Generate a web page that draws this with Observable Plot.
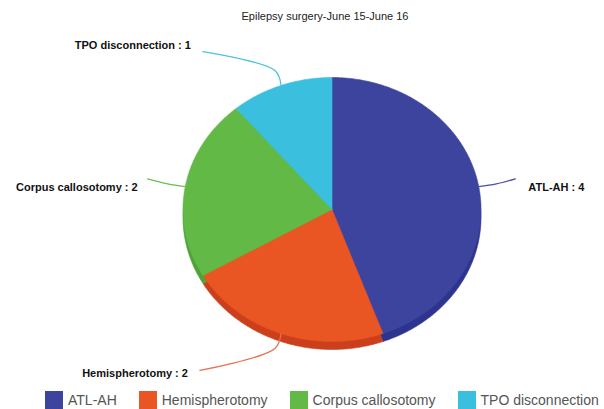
<!DOCTYPE html>
<html><head><meta charset="utf-8">
<script src="https://cdn.jsdelivr.net/npm/d3@7"></script>
<script src="https://cdn.jsdelivr.net/npm/@observablehq/plot@0.6"></script>
<style>
body{margin:0;background:#fff;width:604px;height:409px;overflow:hidden;font-family:"Liberation Sans",Arial,sans-serif}
#title{height:32px;line-height:32px;font-size:11px;color:#222;text-align:center;padding-left:46px;box-sizing:border-box;width:604px}
#chart{height:354px}
#legend{margin-top:3px}
.lg-swatches{font-family:"Liberation Sans",Arial,sans-serif;font-size:14px;color:#555;margin:0 !important;line-height:18px}
.lg-swatches-wrap{flex-wrap:nowrap;min-height:0;height:22px;white-space:nowrap;padding-left:45px;width:600px;box-sizing:border-box}
.lg-swatch{margin-right:22px;flex-shrink:0}
.lg-swatch > svg{margin-right:5px}
</style></head><body>
<div id="title">Epilepsy surgery-June 15-June 16</div>
<div id="chart"></div>
<div id="legend"></div>
<script>
const categories = ["ATL-AH", "Hemispherotomy", "Corpus callosotomy", "TPO disconnection"];
const counts = [4, 2, 2, 1];
const topColors = ["#3d449e", "#ea5524", "#63b946", "#3bbfdf"];
const sideColors = ["#2d3490", "#cc3f1c", "#4fa237", "#2aa6c6"];
const lineColors = ["#4a50a8", "#e8704c", "#6cbf52", "#4cc3df"];

// layout (pixels): radii of the ellipse, rim depth, connector nudges
const RX = 149, RY = 132, DEPTH = 8;
const labelLayout = [
  {end: [19, -5], text: [13, 9]},
  {end: [-75, 22], text: [-12, 3]},
  {end: [-20, -5], text: [-10, 9]},
  {end: [-72, -19], text: [-12, -6]}
];

const arcs = d3.pie().sort(null).value(d => d)(counts);
const depthU = DEPTH / RY;

function slicePts(a, dy) {
  const pts = [{x: 0, y: -dy}];
  const n = Math.max(8, Math.ceil((a.endAngle - a.startAngle) / 0.01));
  for (let i = 0; i <= n; i++) {
    const t = a.startAngle + (a.endAngle - a.startAngle) * i / n;
    pts.push({x: Math.sin(t), y: Math.cos(t) - dy});
  }
  pts.push({x: 0, y: -dy});
  return pts;
}

const marks = [];
arcs.forEach((a, i) => {
  marks.push(Plot.line(slicePts(a, depthU), {x: "x", y: "y", fill: sideColors[i], stroke: sideColors[i], strokeWidth: 0.6}));
});
arcs.forEach((a, i) => {
  marks.push(Plot.line(slicePts(a, 0), {x: "x", y: "y", fill: topColors[i], stroke: topColors[i], strokeWidth: 0.6}));
});

const labels = [];
arcs.forEach((a, i) => {
  const m = (a.startAngle + a.endAngle) / 2;
  const p0 = {x: Math.sin(m), y: Math.cos(m)};
  const p1 = {x: 1.12 * Math.sin(m), y: 1.12 * Math.cos(m)};
  const L = labelLayout[i];
  const p2 = {x: p1.x + L.end[0] / RX, y: p1.y - L.end[1] / RY};
  marks.push(Plot.line([p0, p1, p2], {x: "x", y: "y", stroke: lineColors[i], strokeWidth: 1.3, curve: "catmull-rom"}));
  labels.push({
    x: p2.x + L.text[0] / RX,
    y: p2.y - L.text[1] / RY,
    text: `${categories[i]} : ${counts[i]}`,
    anchor: L.text[0] > 0 ? "start" : "end"
  });
});
["start", "end"].forEach(anc => {
  marks.push(Plot.text(labels.filter(d => d.anchor === anc), {
    x: "x", y: "y", text: "text", textAnchor: anc,
    fontSize: 11, fontWeight: "bold", fill: "#111",
    fontFamily: "Liberation Sans, Arial, sans-serif"
  }));
});

const chart = Plot.plot({
  width: 604, height: 354,
  marginLeft: 331.5 - RX, marginRight: 604 - 331.5 - RX,
  marginTop: 45, marginBottom: 354 - 45 - 2 * RY,
  x: {domain: [-1, 1], axis: null},
  y: {domain: [-1, 1], axis: null},
  style: {background: "#fff", overflow: "visible"},
  marks
});
document.getElementById("chart").append(chart);

const legend = Plot.legend({
  color: {type: "ordinal", domain: categories, range: topColors},
  swatchSize: 18,
  className: "lg"
});
document.getElementById("legend").append(legend);
</script>
</body></html>
